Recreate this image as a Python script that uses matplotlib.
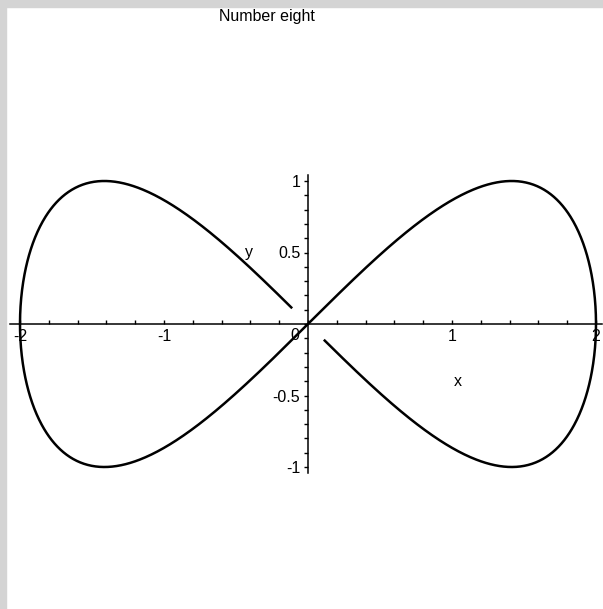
import numpy as np
import matplotlib.pyplot as plt
from matplotlib.patches import Rectangle
from matplotlib.ticker import MultipleLocator

plt.rcParams['font.family'] = ['Liberation Sans', 'DejaVu Sans']

# figure eight: x = a*cos(t), y = b*sin(2t), with a small gap left out near the origin
x_amp = 2.0
y_amp = 1.0
gap = 0.055
t_start = -np.pi / 2 + gap
t_end = 3 * np.pi / 2 - gap

x_ticks = [-2, -1, 1, 2]
x_tick_labels = ['-2', '-1', '1', '2']
y_ticks = [-1, -0.5, 0.5, 1]
y_tick_labels = ['-1', '-0.5', '0.5', '1']

t = np.linspace(t_start, t_end, 1500)
xs = x_amp * np.cos(t)
ys = y_amp * np.sin(2 * t)

W, H = 603, 609
fig = plt.figure(figsize=(W / 100, H / 100), dpi=100)
fig.patch.set_facecolor('white')

# grey window frame on the left and top
fig.add_artist(Rectangle((0, 0), 6 / W, 1, transform=fig.transFigure,
                         color='#d4d4d4', zorder=0))
fig.add_artist(Rectangle((0, 1 - 7 / H), 1, 7 / H, transform=fig.transFigure,
                         color='#d4d4d4', zorder=0))

xlim = (-2.07, 2.04)
ylim = (-1.04, 1.04)
px_x, px_y = 144.0, 143.0
left = (308 - (-xlim[0]) * px_x) / W
width = (xlim[1] - xlim[0]) * px_x / W
bottom = (H - (324 + (-ylim[0]) * px_y)) / H
height = (ylim[1] - ylim[0]) * px_y / H
ax = fig.add_axes([left, bottom, width, height])
ax.set_facecolor('none')

ax.plot(xs, ys, color='black', lw=1.8, solid_capstyle='butt')

ax.set_xlim(*xlim)
ax.set_ylim(*ylim)

for side in ['top', 'right']:
    ax.spines[side].set_visible(False)
ax.spines['left'].set_position('zero')
ax.spines['bottom'].set_position('zero')
ax.spines['left'].set_linewidth(1.1)
ax.spines['bottom'].set_linewidth(1.1)

ax.set_xticks(x_ticks)
ax.set_xticklabels(x_tick_labels)
ax.set_yticks(y_ticks)
ax.set_yticklabels(y_tick_labels)
ax.xaxis.set_minor_locator(MultipleLocator(0.2))
ax.yaxis.set_minor_locator(MultipleLocator(0.1))

ax.tick_params(axis='x', which='both', direction='in', length=2.6, width=1,
               labelsize=11.5, pad=3.5)
ax.tick_params(axis='y', which='both', direction='out', length=2.6, width=1,
               labelsize=11.5, pad=3)

ax.text(-0.06, -0.03, '0', ha='right', va='top', fontsize=11.5)
ax.text(1.04, -0.40, 'x', ha='center', va='center', fontsize=11.5)
ax.text(-0.41, 0.50, 'y', ha='center', va='center', fontsize=11.5)

fig.text(267 / W, 1 - 21.5 / H, 'Number eight', ha='center', va='baseline',
         fontsize=11.5)

fig.savefig('out.png', dpi=100)
